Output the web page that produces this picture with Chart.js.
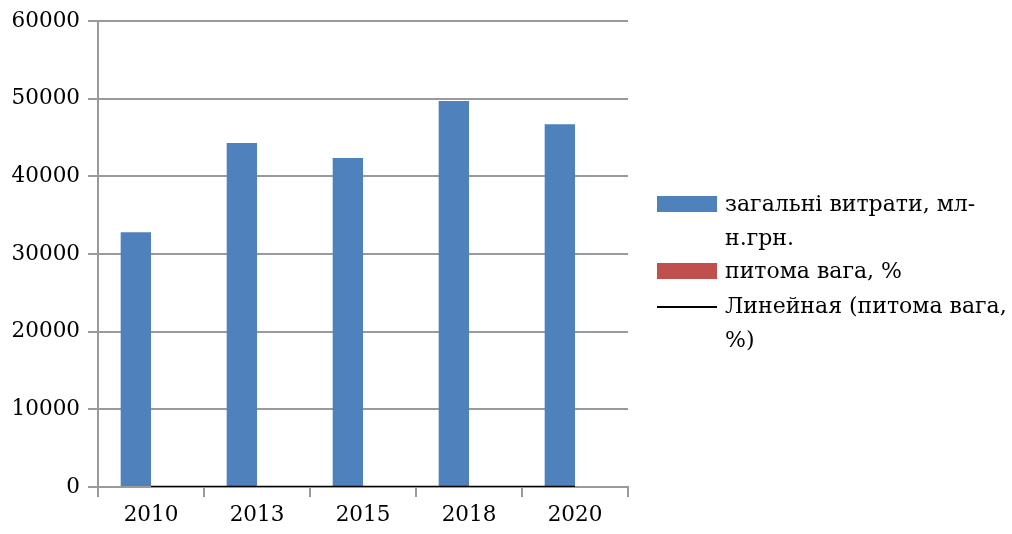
<!DOCTYPE html>
<html>
<head>
<meta charset="utf-8">
<script src="https://cdn.jsdelivr.net/npm/chart.js@4.4.0/dist/chart.umd.min.js"></script>
<style>
  html, body { margin:0; padding:0; background:#fff; }
  #wrap { position:relative; width:1012px; height:534px; }
  canvas { position:absolute; left:0; top:0; }
  .legend { position:absolute; font-family:"DejaVu Serif", serif; font-size:22px; color:#000; line-height:34px; white-space:nowrap; }
  .sw { position:absolute; }
</style>
</head>
<body>
<div id="wrap">
  <canvas id="c" width="1012" height="534"></canvas>
  <div class="sw" style="left:657px;top:196px;width:60px;height:16px;background:#4f81bd;"></div>
  <div class="legend" style="left:725px;top:187px;">загальні витрати, мл-<br>н.грн.</div>
  <div class="sw" style="left:657px;top:263px;width:60px;height:16px;background:#c0504d;"></div>
  <div class="legend" style="left:725px;top:254px;">питома вага, %</div>
  <div class="sw" style="left:657px;top:306px;width:60px;height:2px;background:#000;"></div>
  <div class="legend" style="left:725px;top:289px;">Линейная (питома вага,<br>%)</div>
</div>
<script>
const categories = ["2010", "2013", "2015", "2018", "2020"];
const totalSpending = [32800, 44300, 42350, 49700, 46700];
const sharePercent = [4.2, 4.5, 4.1, 4.6, 4.4];
const shareTrend = [4.2, 4.3, 4.3, 4.4, 4.5];
const yTicks = [0, 10000, 20000, 30000, 40000, 50000, 60000];

const gridColor = '#9a9a9a';
const tickFont = { family: 'DejaVu Serif', size: 21.5 };

new Chart(document.getElementById('c'), {
  type: 'bar',
  data: {
    labels: categories,
    datasets: [
      {
        type: 'line',
        label: 'Линейная (питома вага, %)',
        data: shareTrend,
        borderColor: '#000',
        borderWidth: 2.5,
        pointRadius: 0,
        fill: false,
        order: 0
      },
      {
        label: 'загальні витрати, млн.грн.',
        data: totalSpending,
        backgroundColor: '#4f81bd',
        categoryPercentage: 0.572,
        barPercentage: 1.0,
        order: 1
      },
      {
        label: 'питома вага, %',
        data: sharePercent,
        backgroundColor: '#c0504d',
        categoryPercentage: 0.572,
        barPercentage: 1.0,
        minBarLength: 1,
        order: 1
      }
    ]
  },
  options: {
    responsive: false,
    animation: false,
    layout: { padding: { left: 0, right: 384, top: 21, bottom: 0 } },
    plugins: { legend: { display: false }, tooltip: { enabled: false } },
    scales: {
      x: {
        offset: true,
        grid: { offset: true, drawOnChartArea: false, drawTicks: true, tickLength: 10, color: gridColor, lineWidth: 2 },
        border: { display: true, color: gridColor, width: 2 },
        ticks: { color: '#000', font: tickFont, padding: 6, maxRotation: 0 },
        afterFit: (s) => { s.height = 47; }
      },
      y: {
        min: 0,
        max: 60000,
        afterBuildTicks: (s) => { s.ticks = yTicks.map(v => ({ value: v })); },
        grid: { color: gridColor, lineWidth: 2, tickLength: 10 },
        border: { display: true, color: gridColor, width: 2 },
        ticks: { color: '#000', font: tickFont, padding: 8, callback: (v) => String(v) },
        afterFit: (s) => { s.width = 98; }
      }
    }
  }
});
</script>
</body>
</html>
